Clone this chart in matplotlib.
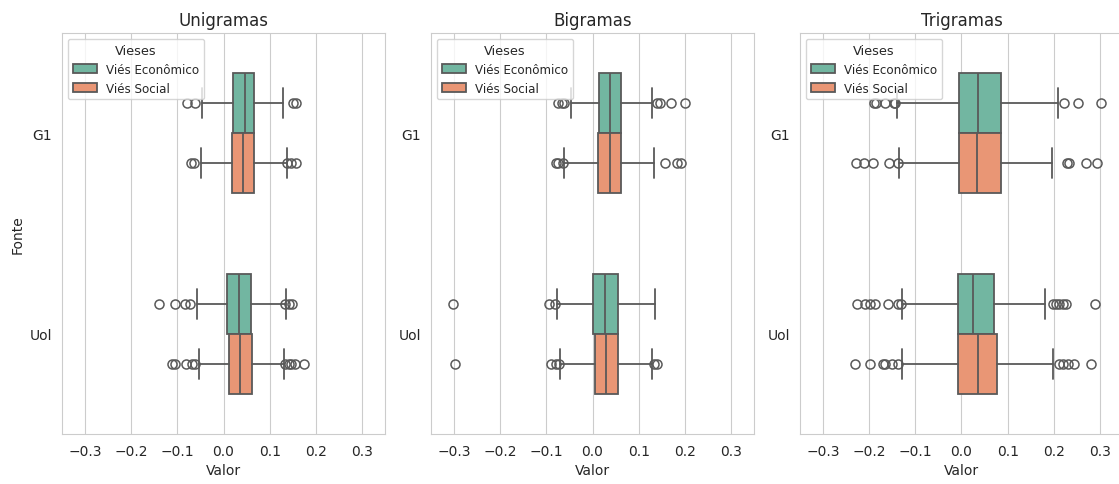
import matplotlib
matplotlib.use("Agg")
import matplotlib.pyplot as plt
from matplotlib.patches import Patch
import seaborn as sns

sns.set_style("whitegrid")

paineis = ["Unigramas", "Bigramas", "Trigramas"]
fontes = ["G1", "Uol"]
vieses = ["Viés Econômico", "Viés Social"]

# estatisticas de cada caixa: [painel][fonte][vies]
q1 = [[[0.020, 0.018], [0.007, 0.012]],
      [[0.014, 0.012], [0.001, 0.005]],
      [[-0.005, -0.005], [-0.008, -0.007]]]
medianas = [[[0.046, 0.043], [0.033, 0.036]],
            [[0.038, 0.038], [0.027, 0.030]],
            [[0.035, 0.033], [0.026, 0.035]]]
q3 = [[[0.067, 0.067], [0.059, 0.062]],
      [[0.062, 0.061], [0.056, 0.056]],
      [[0.086, 0.086], [0.071, 0.078]]]
bigode_inf = [[[-0.046, -0.049], [-0.058, -0.054]],
              [[-0.046, -0.061], [-0.078, -0.070]],
              [[-0.140, -0.135], [-0.128, -0.128]]]
bigode_sup = [[[0.128, 0.137], [0.135, 0.130]],
              [[0.128, 0.134], [0.136, 0.128]],
              [[0.210, 0.196], [0.182, 0.199]]]
outliers = [
    [[[-0.079, -0.062, 0.151, 0.157],
      [-0.070, -0.065, 0.137, 0.147, 0.157]],
     [[-0.139, -0.105, -0.083, -0.072, 0.134, 0.141, 0.148],
      [-0.111, -0.105, -0.081, -0.068, -0.062, 0.134, 0.141, 0.147, 0.154, 0.174]]],
    [[[-0.075, -0.067, -0.062, 0.139, 0.146, 0.169, 0.200],
      [-0.080, -0.075, -0.063, 0.156, 0.183, 0.192]],
     [[-0.302, -0.094, -0.082],
      [-0.297, -0.091, -0.080, -0.073, 0.134, 0.140]]],
    [[[-0.190, -0.185, -0.166, -0.146, -0.143, 0.222, 0.252, 0.302],
      [-0.228, -0.211, -0.192, -0.157, -0.138, 0.228, 0.232, 0.269, 0.293]],
     [[-0.226, -0.209, -0.199, -0.188, -0.159, -0.137, -0.132,
       0.199, 0.205, 0.212, 0.221, 0.227, 0.289],
      [-0.231, -0.198, -0.170, -0.166, -0.150, -0.137,
       0.212, 0.220, 0.230, 0.243, 0.280]]],
]

cores = [sns.desaturate(c, 0.75) for c in sns.color_palette("Set2", 2)]
cinza = "#595959"

fig, axes = plt.subplots(1, 3, figsize=(11.19, 4.85), dpi=100)
fig.subplots_adjust(left=0.0554, right=1.0036, top=0.930, bottom=0.103, wspace=0.142)

for p, ax in enumerate(axes):
    for f in range(len(fontes)):
        for v in range(len(vieses)):
            stats = [{
                "med": medianas[p][f][v], "q1": q1[p][f][v], "q3": q3[p][f][v],
                "whislo": bigode_inf[p][f][v], "whishi": bigode_sup[p][f][v],
                "fliers": outliers[p][f][v],
            }]
            pos = f - 0.15 + 0.3 * v
            ax.bxp(stats, positions=[pos], widths=[0.3], vert=False,
                   patch_artist=True, manage_ticks=False,
                   boxprops=dict(facecolor=cores[v], edgecolor=cinza, linewidth=1.3),
                   medianprops=dict(color=cinza, linewidth=1.3),
                   whiskerprops=dict(color=cinza, linewidth=1.3),
                   capprops=dict(color=cinza, linewidth=1.3),
                   flierprops=dict(marker="o", markerfacecolor="none",
                                   markeredgecolor=cinza, markersize=6.5,
                                   markeredgewidth=1.1))
    ax.set_xlim(-0.35, 0.35)
    ax.set_ylim(1.5, -0.5)
    ax.set_yticks(range(len(fontes)))
    ax.set_yticklabels(fontes)
    ax.grid(axis="y", visible=False)
    ax.set_xticks([-0.3, -0.2, -0.1, 0.0, 0.1, 0.2, 0.3])
    ax.tick_params(labelsize=10)
    ax.set_title(paineis[p], fontsize=12)
    ax.set_xlabel("Valor", fontsize=10)
    if p == 0:
        ax.set_ylabel("Fonte", fontsize=10)
    handles = [Patch(facecolor=cores[v], edgecolor=cinza, linewidth=1.3, label=vieses[v])
               for v in range(len(vieses))]
    ax.legend(handles=handles, title="Vieses", loc="upper left",
              fontsize=8.6, title_fontsize=9.3)

plt.savefig("out.png", dpi=100)
